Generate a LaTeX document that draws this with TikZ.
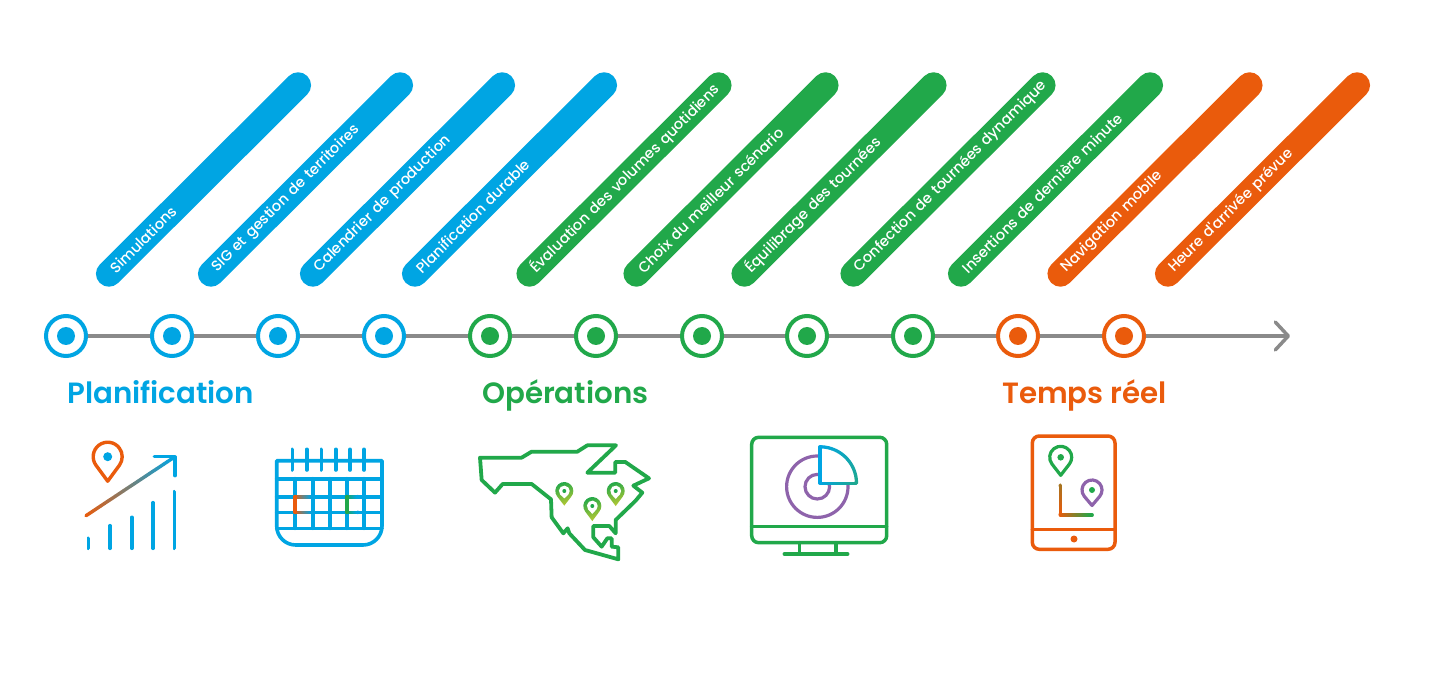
\documentclass[tikz,border=0pt]{standalone}
\usepackage{fontspec}
\setmainfont{Poppins}
\newfontfamily\pillfont{Poppins Medium}
\newfontfamily\titlefont{Poppins SemiBold}
\usetikzlibrary{calc,arrows.meta}
\definecolor{cblue}{HTML}{00A5E3}
\definecolor{cgreen}{HTML}{21A84A}
\definecolor{corange}{HTML}{EA5B0C}
\definecolor{cgray}{HTML}{8A8A8A}
\definecolor{cpurple}{HTML}{8E63AB}
\definecolor{clime}{HTML}{B5C833}
\definecolor{cteal}{HTML}{1FA88F}
\tikzset{
  pillbox/.style={fill=#1,text=white,rotate=44.9,minimum width=293pt,minimum height=26pt,
    rounded corners=13pt,inner xsep=18pt,inner ysep=0pt,text width=257pt,align=left,
    font=\pillfont\fontsize{14.6}{16}\selectfont},
  ringnode/.style={circle,draw=#1,fill=white,line width=4pt,minimum size=40pt,inner sep=0pt},
  dotnode/.style={circle,fill=#1,minimum size=18pt,inner sep=0pt},
  titlenode/.style={anchor=base west,text=#1,font=\titlefont\fontsize{29.3}{32}\selectfont,inner sep=0pt},
  axisline/.style={draw=cgray,line width=3.5pt},
  icon/.style={line width=#1,line cap=round,line join=round},
}
\newcommand{\pillat}[6]{% name x0 x1 colour text y-offset
  \pgfmathsetmacro{\mx}{(#2+#3)/2}
  \node (#1) [pillbox=#4] at (\mx,{179.5+#6}) {\makebox[0pt][l]{#5}};
}
\newcommand{\stepat}[4]{% index x colour
  \node (c#1) [ringnode=#3] at (#2,336) {};
  \node (d#1) [dotnode=#3] at (#2,336) {};
}
% gradient stroke: x1 y1 x2 y2 colA colB width
\newcommand{\gradline}[7]{%
  \foreach \k in {0,...,23}{
    \pgfmathsetmacro{\ta}{\k/24}
    \pgfmathsetmacro{\tb}{(\k+1)/24}
    \pgfmathsetmacro{\pc}{100*(\k+0.5)/24}
    \draw[line width=#7,line cap=round,color=#6!\pc!#5]
      ($(#1,#2)!\ta!(#3,#4)$) -- ($(#1,#2)!\tb!(#3,#4)$);
  }}
% pin outline: cx cy r tipdist colour dotcolour dotr width
\newcommand{\pinat}[8]{%
  \begin{scope}[shift={(#1,#2)}]
    \pgfmathsetmacro{\aa}{acos(#3/#4)}
    \draw[line width=#8,line join=round,draw=#5,fill=white]
      (0pt,-#4 pt) -- (270-\aa:#3 pt) arc[start angle=270-\aa,end angle=-90+\aa,radius=#3 pt] -- cycle;
    \fill[#6] (0pt,0pt) circle (#7 pt);
  \end{scope}}
% shaded pin: cx cy r tipdist dotr width
\newcommand{\shadepin}[6]{%
  \begin{scope}[shift={(#1,#2)}]
    \pgfmathsetmacro{\aa}{acos(#3/#4)}
    \pgfmathsetmacro{\ro}{#3+#6/2}
    \pgfmathsetmacro{\ri}{#3-#6/2}
    \pgfmathsetmacro{\doo}{#4+#6}
    \pgfmathsetmacro{\di}{#4-#6}
    \shade[left color=cgreen,right color=clime,shading angle=20]
      (0pt,-\doo pt) -- (270-\aa:\ro pt) arc[start angle=270-\aa,end angle=-90+\aa,radius=\ro pt] -- cycle;
    \fill[white]
      (0pt,-\di pt) -- (270-\aa:\ri pt) arc[start angle=270-\aa,end angle=-90+\aa,radius=\ri pt] -- cycle;
    \fill[cgreen] (0pt,0pt) circle (#5 pt);
  \end{scope}}
\begin{document}
\begin{tikzpicture}[x=1pt,y=-1pt]
\useasboundingbox (0,0) rectangle (1440,684);
\fill[white] (0,0) rectangle (1440,684);
% pills
\pillat{p1}{109}{298}{cblue}{Simulations}{0}
\pillat{p2}{211}{400}{cblue}{SIG et gestion de territoires}{0}
\pillat{p3}{313}{502}{cblue}{Calendrier de production}{0}
\pillat{p4}{415}{604}{cblue}{Planification durable}{0}
\pillat{p5}{529}{719}{cgreen}{Évaluation des volumes quotidiens}{0}
\pillat{p6}{637}{825}{cgreen}{Choix du meilleur scénario}{0}
\pillat{p7}{745}{933}{cgreen}{Équilibrage des tournées}{0}
\pillat{p8}{853}{1043}{cgreen}{Confection de tournées dynamique}{0}
\pillat{p9}{961}{1150}{cgreen}{Insertions de dernière minute}{0}
\pillat{p10}{1061}{1249}{corange}{Navigation mobile}{0}
\pillat{p11}{1168}{1357}{corange}{Heure d'arrivée prévue}{0}
% axis
\coordinate (axisend) at (1290,336);
\coordinate (axisstart) at (66,336);
\draw[axisline,-{Straight Barb[length=13pt,width=28pt,line width=3.5pt,round]}] (axisstart) -- (axisend);
\stepat{1}{66}{cblue}{}
\stepat{2}{172}{cblue}{}
\stepat{3}{278}{cblue}{}
\stepat{4}{384}{cblue}{}
\stepat{5}{490}{cgreen}{}
\stepat{6}{596}{cgreen}{}
\stepat{7}{702}{cgreen}{}
\stepat{8}{807}{cgreen}{}
\stepat{9}{913}{cgreen}{}
\stepat{10}{1018}{corange}{}
\stepat{11}{1124}{corange}{}
% titles
\node (t1) [titlenode=cblue] at (67,403) {Planification};
\node (t2) [titlenode=cgreen] at (482,403) {Opérations};
\node (t3) [titlenode=corange] at (1002,403) {Temps réel};
% icon 1: chart
\gradline{86}{515.7}{175}{456.7}{corange}{cblue}{3.4pt}
\draw[icon=3.4pt,cblue] (154.3,456.7) -- (175,456.7) -- (175,475.7);
\foreach \bx/\by in {88.3/538.3,110/525.7,131.7/517.3,153/502.7,174.3/491.7}
  \draw[icon=3.6pt,cblue] (\bx,\by) -- (\bx,548.3);
\pinat{107.7}{456.7}{14.5}{24.5}{corange}{cblue}{4.5}{3.4pt}
% icon 2: calendar
\begin{scope}[cblue,icon=3.6pt]
  \draw (276.7,460.7) -- (382,460.7) -- (382,526) arc[start angle=0,end angle=-90,radius=19pt] -- (295.7,545) arc[start angle=270,end angle=180,radius=19pt] -- cycle;
  \foreach \rx in {292.3,306.7,321.3,335.7,350,364}
    \draw (\rx,449.3) -- (\rx,470);
  \foreach \ly in {478.7,496.7,512.3,528.3}
    \draw (276.7,\ly) -- (382,\ly);
  \foreach \vx in {295,312.7,330,346.7,364}
    \draw (\vx,478.7) -- (\vx,528.3);
\end{scope}
\gradline{295}{496.7}{312.7}{496.7}{corange}{cblue}{3.6pt}
\gradline{295}{512.3}{312.7}{512.3}{corange}{cblue}{3.6pt}
\draw[icon=3.6pt,corange] (295,496.7) -- (295,512.3);
\gradline{346.7}{496.7}{358}{496.7}{cgreen}{cblue}{3.6pt}
\gradline{346.7}{512.3}{358}{512.3}{cgreen}{cblue}{3.6pt}
\draw[icon=3.6pt,cgreen] (346.7,496.7) -- (346.7,512.3);
% icon 3: map
\begin{scope}[shift={(470,430)},x=0.3333pt,y=-0.3333pt]
\draw[icon=3.8pt,cgreen] (30,83) -- (155,83) -- (185,65) -- (322,65) -- (352,46) -- (438,46) -- (352,128) -- (436,128) -- (436,96) -- (466,96) -- (537,145) -- (490,167) -- (517,188) -- (497,212) -- (437,270) -- (437,310) -- (418,288) -- (370,288) -- (370,322) -- (395,350) -- (412,325) -- (425,325) -- (425,350) -- (445,352) -- (445,388) -- (345,360) -- (298,310) -- (293,295) -- (280,310) -- (245,262) -- (243,208) -- (185,162) -- (98,162) -- (75,188) -- (35,150) -- cycle;
\end{scope}
\shadepin{564.3}{491}{7.2}{11}{2}{3.6}
\shadepin{592.3}{506}{7.2}{11.5}{2}{3.6}
\shadepin{615.7}{491}{7.2}{11.5}{2}{3.6}
% icon 4: monitor
\begin{scope}[cgreen,icon=3.5pt]
  \draw[rounded corners=7pt] (751.7,437.3) rectangle (886.7,542.7);
  \draw (751.7,526.7) -- (886.7,526.7);
  \draw (799.3,542.7) -- (799.3,554) (836,542.7) -- (836,554);
  \draw (784.3,554) -- (847.7,554);
\end{scope}
\draw[cpurple,line width=3.2pt] (817.3,486.7) circle (30.7pt);
\draw[cpurple,line width=3.2pt] (817.3,486.7) circle (12.3pt);
\fill[white] (820,483.3) -- (820,446.7) arc[start angle=90,end angle=0,radius=36.5pt] -- cycle;
\foreach \k in {0,...,23}{
  \pgfmathsetmacro{\sa}{90-90*\k/24}
  \pgfmathsetmacro{\sb}{90-90*(\k+1)/24}
  \pgfmathsetmacro{\pc}{100*(\k+0.5)/24}
  \draw[line width=3.2pt,line cap=round,color=cteal!\pc!cblue] ($(820,483.3)+(\sa:36.5pt)$) arc[start angle=\sa,end angle=\sb,radius=36.5pt];
}
\gradline{820}{483.3}{856}{483.3}{cblue}{cteal}{3.2pt}
\draw[icon=3.2pt,cblue] (820,483.3) -- (820,446.7);
% icon 5: tablet
\begin{scope}[corange,icon=3.5pt]
  \draw[rounded corners=7pt] (1032.3,436) rectangle (1115,549.3);
  \draw (1032.3,529.3) -- (1115,529.3);
  \fill (1074,539) circle (3.5pt);
\end{scope}
\pinat{1060.7}{457.3}{11}{18}{cgreen}{cgreen}{3.3}{3.2pt}
\pinat{1092}{490}{10}{15.5}{cpurple}{cgreen}{3}{3.2pt}
\gradline{1060.3}{485}{1060.3}{515}{cgreen!35!corange}{corange}{3.2pt}
\gradline{1060.3}{515}{1092.3}{515}{corange}{cgreen}{3.2pt}
\end{tikzpicture}
\end{document}
